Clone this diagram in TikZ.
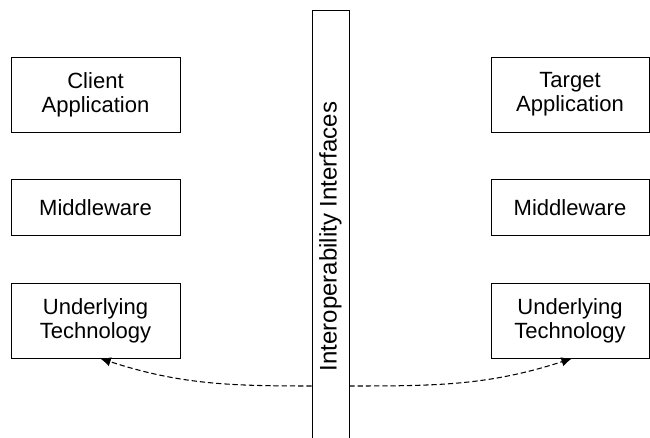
\documentclass[tikz,border=0pt]{standalone}
\usepackage{fontspec}
\setmainfont{Liberation Sans}
\usetikzlibrary{arrows.meta}

\begin{document}
\begin{tikzpicture}[scale=1]
	\tikzstyle{every node}=[font=\fontsize{18.8}{20.5}\selectfont]
	\tikzstyle{layer}=[draw, line width=0.8pt, align=center, inner sep=0pt]
	\tikzstyle{link}=[line width=0.9pt, dash pattern=on 4.5pt off 2.5pt, -{Latex[length=9pt,width=8pt]}]
	
	\useasboundingbox (0,0) rectangle (19.5,13.14);
	
	% client side
	\node [layer, minimum width=5.07cm, minimum height=2.25cm] (ca) at (2.865,10.305) {Client\\Application};
	\node [layer, minimum width=5.07cm, minimum height=1.68cm] (cm) at (2.865,6.915) {Middleware};
	\node [layer, minimum width=5.07cm, minimum height=2.25cm] (cu) at (2.865,3.525) {Underlying\\Technology};
	
	% target side
	\node [layer, minimum width=4.74cm, minimum height=2.25cm] (ta) at (17.1,10.305) {Target\\Application};
	\node [layer, minimum width=4.74cm, minimum height=1.68cm] (tm) at (17.1,6.915) {Middleware};
	\node [layer, minimum width=4.74cm, minimum height=2.25cm] (tu) at (17.1,3.525) {Underlying\\Technology};
	
	% interfaces bar
	\node [draw, line width=0.8pt, minimum width=1.11cm, minimum height=13.24cm, inner sep=0pt] (bar) at (9.915,6.22) {};
	\node [rotate=90, font=\fontsize{20.5}{22}\selectfont] (barlabel) at (9.915,6.045) {Interoperability Interfaces};
	
	\coordinate (bl) at (bar.west |- 0,1.56);
	\coordinate (br) at (bar.east |- 0,1.56);
	
	\draw [link] (bl) to[out=180,in=-18] ([xshift=0.14cm]cu.south);
	\draw [link] (br) to[out=0,in=-162] ([xshift=0.06cm]tu.south);
	
\end{tikzpicture}
\end{document}
